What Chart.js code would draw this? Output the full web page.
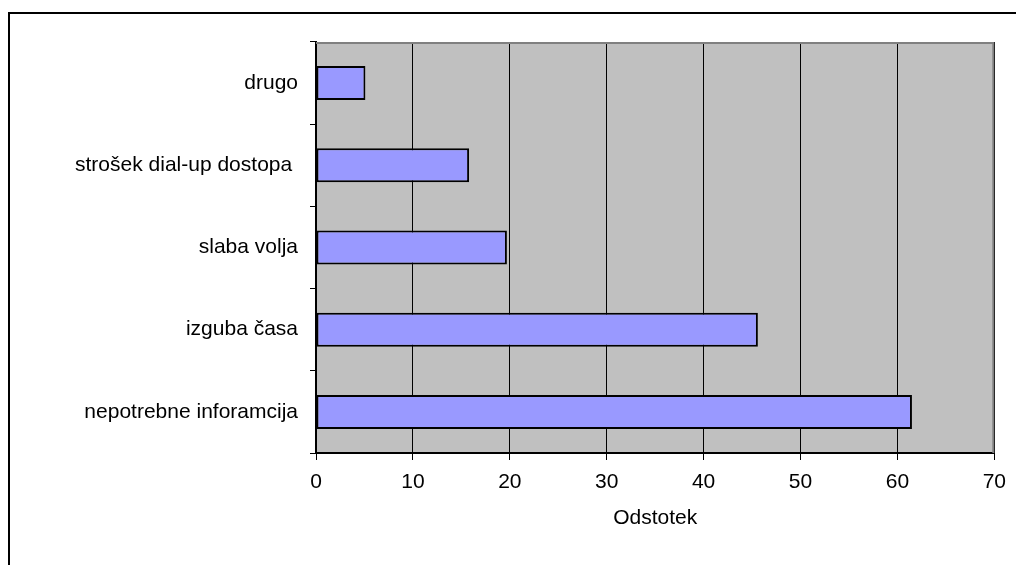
<!DOCTYPE html>
<html>
<head>
<meta charset="utf-8">
<script src="https://cdn.jsdelivr.net/npm/chart.js@4/dist/chart.umd.min.js"></script>
<style>
  html, body { margin: 0; padding: 0; background: #fff; }
  #wrap { position: relative; width: 1016px; height: 565px; }
</style>
</head>
<body>
<div id="wrap"><canvas id="c"></canvas></div>
<script>
// Reasons for not using the service (percent of respondents)
const categories = [
  'drugo',
  'strošek dial-up dostopa ',
  'slaba volja',
  'izguba časa',
  'nepotrebne inforamcija'
];
const percentValues = [5.1, 15.8, 19.7, 45.6, 61.5];
const xTicks = [0, 10, 20, 30, 40, 50, 60, 70];
const axisTitle = 'Odstotek';

const FONT = { family: '"Liberation Sans", Arial, sans-serif', size: 21 };

// Frame, grey plot background and the grey top/right plot edge
const plotDecor = {
  id: 'plotDecor',
  beforeDraw(chart) {
    const { ctx, chartArea: a } = chart;
    ctx.save();
    ctx.fillStyle = '#000';
    ctx.fillRect(8, 12, 1016, 2);
    ctx.fillRect(8, 12, 2, 565);
    ctx.fillStyle = '#C0C0C0';
    ctx.fillRect(a.left, a.top, a.right - a.left, a.bottom - a.top);
    ctx.restore();
  },
  afterDatasetsDraw(chart) {
    const { ctx, chartArea: a } = chart;
    ctx.save();
    ctx.strokeStyle = '#808080';
    ctx.lineWidth = 2;
    ctx.beginPath();
    ctx.moveTo(a.left, a.top + 1);
    ctx.lineTo(a.right - 1, a.top + 1);
    ctx.lineTo(a.right - 1, a.bottom);
    ctx.stroke();
    ctx.restore();
  }
};

new Chart(document.getElementById('c'), {
  type: 'bar',
  data: {
    labels: categories,
    datasets: [{
      data: percentValues,
      backgroundColor: '#9999FF',
      borderColor: '#000',
      borderWidth: 2,
      borderSkipped: false,
      barPercentage: 0.414,
      categoryPercentage: 1
    }]
  },
  options: {
    indexAxis: 'y',
    responsive: true,
    maintainAspectRatio: false,
    animation: false,
    layout: { padding: { left: 0, top: 42, right: 20, bottom: 0 } },
    plugins: {
      legend: { display: false },
      tooltip: { enabled: false }
    },
    scales: {
      x: {
        min: 0,
        max: 70,
        afterBuildTicks(scale) { scale.ticks = xTicks.map(v => ({ value: v })); },
        afterFit(scale) { scale.height = 112; },
        border: { color: '#000', width: 2 },
        grid: { color: '#000', lineWidth: 1, tickLength: 7, tickColor: '#000' },
        ticks: { color: '#000', font: FONT, padding: 10, maxRotation: 0 },
        title: {
          display: true,
          text: axisTitle,
          color: '#000',
          font: FONT,
          padding: { top: 4, bottom: 34 }
        }
      },
      y: {
        afterFit(scale) { scale.width = 316; },
        border: { color: '#000', width: 2 },
        grid: { drawOnChartArea: false, offset: true, tickLength: 6, color: '#000' },
        ticks: { color: '#000', font: FONT, padding: 12 }
      }
    }
  },
  plugins: [plotDecor]
});
</script>
</body>
</html>
